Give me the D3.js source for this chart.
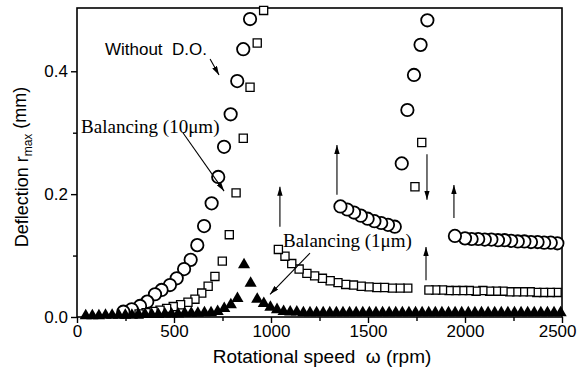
<!DOCTYPE html>
<html><head><meta charset="utf-8">
<script src="https://cdn.jsdelivr.net/npm/d3@7"></script>
<style>html,body{margin:0;padding:0;background:#fff;} svg{display:block;}</style>
</head><body><svg id="c" width="577" height="381"></svg>
<script>
// ---- data ----
const xMajorTicks = [0, 500, 1000, 1500, 2000, 2500];
const xMinorTicks = [250, 750, 1250, 1750, 2250];
const yMajorTicks = [0, 0.2, 0.4];
const yTickLabels = ["0.0", "0.2", "0.4"];
const yMinorTicks = [0.1, 0.3];

// Without D.O. (circles)
const circleRpm = [239,282,325,362,402,436,479,514,552,586,620,655,694,728,758,792,826,857,892,
  1358,1393,1428,1463,1498,1533,1568,1603,1638,
  1674,1703,1737,1771,1806,
  1948,2000,2034,2068,2102,2136,2170,2204,2238,2272,2306,2340,2374,2408,2442,2476];
const circleVal = [0.0086,0.0125,0.018,0.025,0.037,0.044,0.052,0.063,0.078,0.093,0.117,0.148,0.185,0.228,0.277,0.330,0.384,0.436,0.485,
  0.180,0.175,0.170,0.165,0.160,0.156,0.153,0.150,0.147,
  0.250,0.337,0.394,0.443,0.483,
  0.132,0.128,0.127,0.127,0.126,0.126,0.125,0.125,0.124,0.123,0.123,0.122,0.122,0.121,0.121,0.120];

// Balancing (10 um) (squares)
const squareRpm = [320,356,392,428,462,496,534,572,608,643,676,711,749,785,820,857,892,929,962,
  1038,1072,1107,1145,1185,1225,1265,1305,1345,1385,1425,1465,1505,1545,1585,1625,1665,1705,
  1742,1777,
  1814,1849,1884,1918,1953,1988,2022,2057,2092,2127,2162,2196,2231,2266,2301,2336,2370,2405,2440,2475];
const squareVal = [0.005,0.007,0.009,0.011,0.014,0.017,0.020,0.024,0.029,0.039,0.050,0.066,0.091,0.134,0.202,0.291,0.374,0.446,0.499,
  0.110,0.099,0.087,0.078,0.071,0.067,0.063,0.059,0.056,0.053,0.052,0.050,0.049,0.048,0.048,0.047,0.047,0.047,
  0.212,0.284,
  0.044,0.044,0.044,0.043,0.043,0.043,0.043,0.042,0.043,0.042,0.042,0.042,0.041,0.041,0.041,0.041,0.040,0.040,0.040,0.040];

// Balancing (1 um) (filled triangles)
const triRpm = [45,79,113,147,181,215,249,283,317,351,385,419,453,487,521,555,589,623,657,691,725,
  759,793,827,861,895,929,963,997,1031,1065,
  1099,1133,1167,1201,1235,1269,1303,1337,1371,1405,1439,1473,1507,1541,1575,1609,1643,1677,1711,1745,1779,
  1813,1847,1881,1915,1949,1983,2017,2051,2085,2119,2153,2187,2221,2255,2289,2323,2357,2391,2425,2459,2493];
const triVal = [0.002,0.002,0.002,0.003,0.003,0.003,0.003,0.003,0.004,0.004,0.004,0.004,0.005,0.005,0.005,0.006,0.006,0.006,0.007,0.007,0.009,
  0.014,0.020,0.030,0.085,0.055,0.029,0.022,0.016,0.012,0.009,
  0.008,0.008,0.007,0.007,0.007,0.007,0.007,0.007,0.007,0.007,0.007,0.007,0.007,0.007,0.007,0.007,0.007,0.007,0.007,0.007,0.007,
  0.007,0.007,0.007,0.007,0.007,0.007,0.007,0.007,0.007,0.007,0.007,0.007,0.007,0.007,0.007,0.007,0.007,0.007,0.007,0.007,0.007];

// annotations (data coordinates)
const arrowSegs = [
  [686, 0.420, 732, 0.394],
  [546, 0.300, 758, 0.205],
  [1201, 0.104, 995, 0.037],
  [1046, 0.147, 1046, 0.212],
  [1340, 0.199, 1340, 0.280],
  [1804, 0.265, 1804, 0.191],
  [1943, 0.161, 1943, 0.215],
  [1799, 0.060, 1799, 0.114]
];
const labelTexts = ["Without  D.O.", "Balancing (10\u03bcm)", "Balancing (1\u03bcm)"];
const labelPos = [[144, 0.427], [21, 0.300], [1062, 0.114]];

// ---- drawing ----
const svg = d3.select("#c");
const x = d3.scaleLinear().domain([0, 2500]).range([77, 562]);
const y = d3.scaleLinear().domain([0, 0.503]).range([317, 8]);
const SANS = "'Liberation Sans', Arial, Helvetica, sans-serif";
const SERIF = "'Liberation Serif', 'Times New Roman', serif";

svg.append("rect").attr("width", 577).attr("height", 381).attr("fill", "#fff");

// axes
const gx = svg.append("g").attr("transform", "translate(0,317)")
  .call(d3.axisBottom(x).tickValues(xMajorTicks).tickSize(6).tickSizeOuter(0).tickPadding(2).tickFormat(d3.format("d")));
const gxm = svg.append("g").attr("transform", "translate(0,317)")
  .call(d3.axisBottom(x).tickValues(xMinorTicks).tickSize(4).tickSizeOuter(0).tickFormat(""));
const gy = svg.append("g").attr("transform", "translate(77,0)")
  .call(d3.axisLeft(y).tickValues(yMajorTicks).tickSize(6).tickSizeOuter(0).tickPadding(3).tickFormat((d, i) => yTickLabels[i]));
const gym = svg.append("g").attr("transform", "translate(77,0)")
  .call(d3.axisLeft(y).tickValues(yMinorTicks).tickSize(4).tickSizeOuter(0).tickFormat(""));
[gx, gxm, gy, gym].forEach(g => {
  g.select(".domain").remove();
  g.selectAll("line").attr("stroke", "#000").attr("stroke-width", 1.4);
  g.selectAll("text").attr("fill", "#000").style("font-family", SANS).style("font-size", "17px");
});
// keep the last x label inside the picture
gx.selectAll(".tick text").filter(d => d === 2500).attr("text-anchor", "end").attr("x", 14);

// frame
svg.append("rect").attr("x", x(0)).attr("y", y(0.503)).attr("width", x(2500) - x(0)).attr("height", y(0) - y(0.503))
  .attr("fill", "none").attr("stroke", "#000").attr("stroke-width", 1.6);

// circles (drawn right to left so earlier points sit on top)
const circ = circleRpm.map((r, i) => ({r, v: circleVal[i]})).reverse();
svg.append("g").selectAll("circle").data(circ).join("circle")
  .attr("cx", d => x(d.r)).attr("cy", d => y(d.v)).attr("r", 6.2)
  .attr("fill", "#fff").attr("stroke", "#000").attr("stroke-width", 1.8);

// squares
const sq = squareRpm.map((r, i) => ({r, v: squareVal[i]})).reverse();
svg.append("g").selectAll("path").data(sq).join("path")
  .attr("d", d3.symbol(d3.symbolSquare, 66))
  .attr("transform", d => `translate(${x(d.r)},${y(d.v)})`)
  .attr("fill", "#fff").attr("stroke", "#000").attr("stroke-width", 1.3);

// triangles
const tri = triRpm.map((r, i) => ({r, v: triVal[i]}));
svg.append("g").selectAll("path").data(tri).join("path")
  .attr("d", d3.symbol(d3.symbolTriangle, 64))
  .attr("transform", d => `translate(${x(d.r)},${y(d.v)})`)
  .attr("fill", "#000");

// arrows
svg.append("defs").append("marker").attr("id", "ah")
  .attr("viewBox", "0 0 10 6").attr("refX", 10).attr("refY", 3)
  .attr("markerWidth", 9).attr("markerHeight", 5.4).attr("markerUnits", "userSpaceOnUse")
  .attr("orient", "auto")
  .append("path").attr("d", "M0,0 L10,3 L0,6 Z").attr("fill", "#000");
svg.append("g").selectAll("line").data(arrowSegs).join("line")
  .attr("x1", d => x(d[0])).attr("y1", d => y(d[1]))
  .attr("x2", d => x(d[2])).attr("y2", d => y(d[3]))
  .attr("stroke", "#000").attr("stroke-width", 1.1).attr("marker-end", "url(#ah)");

// labels
svg.append("text").attr("x", x(labelPos[0][0])).attr("y", y(labelPos[0][1]))
  .style("font-family", SANS).style("font-size", "17px").style("white-space", "pre")
  .attr("xml:space", "preserve").text(labelTexts[0]);
svg.append("text").attr("x", x(labelPos[1][0])).attr("y", y(labelPos[1][1]))
  .style("font-family", SERIF).style("font-size", "19px").text(labelTexts[1]);
svg.append("text").attr("x", x(labelPos[2][0])).attr("y", y(labelPos[2][1]))
  .style("font-family", SERIF).style("font-size", "19px").text(labelTexts[2]);

// axis titles
const xt = svg.append("text").attr("x", 322).attr("y", 363).attr("text-anchor", "middle")
  .style("font-family", SANS).style("font-size", "19px").style("white-space", "pre");
xt.text("Rotational speed  \u03c9 (rpm)");
const yt = svg.append("text").attr("transform", "translate(28,167) rotate(-90)").attr("text-anchor", "middle")
  .style("font-family", SANS).style("font-size", "18px");
yt.append("tspan").text("Deflection  r");
yt.append("tspan").attr("dy", "0.3em").style("font-size", "12px").text("max");
yt.append("tspan").attr("dy", "-0.3em").text(" (mm)");
</script>
</body></html>
